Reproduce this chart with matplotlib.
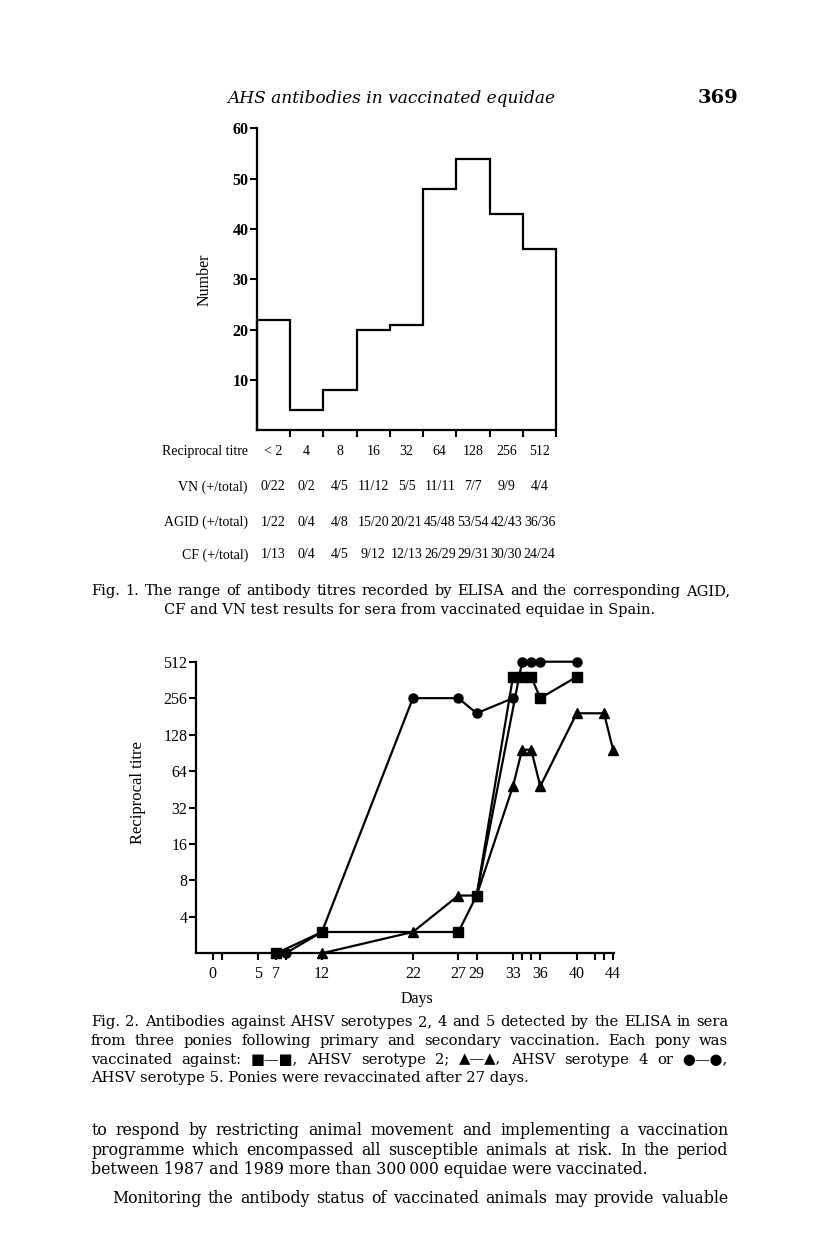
import numpy as np
import matplotlib
matplotlib.use('Agg')
import matplotlib.pyplot as plt
import matplotlib.transforms as mtransforms
from matplotlib.ticker import NullLocator

# --- Fig. 1 data: ELISA titre distribution and test results ---
titre_labels = ['< 2', '4', '8', '16', '32', '64', '128', '256', '512']
titre_counts = [22, 4, 8, 20, 21, 48, 54, 43, 36]
vn_results = ['0/22', '0/2', '4/5', '11/12', '5/5', '11/11', '7/7', '9/9', '4/4']
agid_results = ['1/22', '0/4', '4/8', '15/20', '20/21', '45/48', '53/54', '42/43', '36/36']
cf_results = ['1/13', '0/4', '4/5', '9/12', '12/13', '26/29', '29/31', '30/30', '24/24']

# --- Fig. 2 data: reciprocal titre per day for three ponies ---
square_days = [7, 12, 27, 29, 33, 34, 35, 36, 40]
square_titre = [2, 3, 3, 6, 384, 384, 384, 256, 384]
triangle_days = [12, 22, 27, 29, 33, 34, 35, 36, 40, 43, 44]
triangle_titre = [2, 3, 6, 6, 48, 96, 96, 48, 192, 192, 96]
circle_days = [8, 12, 22, 27, 29, 33]
circle_titre = [2, 3, 256, 256, 192, 256]
circle_late_days = [29, 34, 35, 36, 40]
circle_late_titre = [6, 512, 512, 512, 512]

day_labels = [0, 5, 7, 12, 22, 27, 29, 33, 36, 40, 44]
day_minor = [1, 8, 34, 35, 42, 43]
titre_ticks = [4, 8, 16, 32, 64, 128, 256, 512]

W, H = 816, 1251
plt.rcParams['font.family'] = ['Liberation Serif', 'DejaVu Serif', 'DejaVu Sans']
TIMES = 'Liberation Serif'                 # figure labels
BOOK = ['DejaVu Serif', 'DejaVu Sans']     # wider face for the page text

fig = plt.figure(figsize=(W / 100, H / 100), dpi=100)
fig.patch.set_facecolor('white')


def box(x0, y0, x1, y1):
    # page pixels (top-left origin) -> figure fraction rect
    return [x0 / W, 1 - y1 / H, (x1 - x0) / W, (y1 - y0) / H]


def put(x, y, s, **kw):
    kw.setdefault('va', 'center')
    return fig.text(x / W, 1 - y / H, s, **kw)


renderer = fig.canvas.get_renderer()


def fit_size(line, width, base=10.0, **kw):
    t = put(0, 0, line, fontsize=base, **kw)
    w = t.get_window_extent(renderer).width
    t.remove()
    return base * width / w


def justify(line, y, x0, x1, size, **kw):
    words = line.split(' ')
    texts = [put(0, y, w, fontsize=size, va='baseline', **kw) for w in words]
    widths = [t.get_window_extent(renderer).width for t in texts]
    gap = (x1 - x0 - sum(widths)) / max(len(words) - 1, 1)
    x = x0
    for t, w in zip(texts, widths):
        t.set_x(x / W)
        x += w + gap


def style_axes(ax, labelsize):
    for s in ['top', 'right']:
        ax.spines[s].set_visible(False)
    for s in ['left', 'bottom']:
        ax.spines[s].set_linewidth(1.6)
    ax.tick_params(which='both', direction='out', length=5, width=1.5,
                   labelsize=labelsize, pad=1, labelfontfamily=TIMES)


# header
head = 'AHS antibodies in vaccinated equidae'
put(391, 103, head, fontsize=fit_size(head, 327, family=BOOK, style='italic'),
    family=BOOK, style='italic', ha='center', va='baseline')
put(718, 103, '369', fontsize=14, family=BOOK, weight='bold', ha='center', va='baseline')

# ---------------- Fig. 1 ----------------
ax1 = fig.add_axes(box(256.7, 128.3, 556.3, 430.3))
edges = np.arange(len(titre_counts) + 1)
ax1.stairs(titre_counts, edges, color='black', lw=1.6, clip_on=False)
ax1.set_xlim(0, len(titre_counts))
ax1.set_ylim(0, 60)
style_axes(ax1, 11.5)
ax1.set_xticks(edges[1:])
ax1.set_xticklabels([])
ax1.set_yticks([10, 20, 30, 40, 50, 60])
ax1.set_yticklabels(['10', '20', '30', '40', '50', '60'], family=TIMES, weight='bold')
ax1.set_ylabel('Number', fontsize=11.5, family=TIMES)
ax1.yaxis.set_label_coords(-0.146, 0.5)

# table under the histogram
trans = mtransforms.blended_transform_factory(ax1.transData, fig.transFigure)
centers = edges[:-1] + 0.5
rows = [('Reciprocal titre', titre_labels, 451),
        ('VN (+/total)', vn_results, 487),
        ('AGID (+/total)', agid_results, 522),
        ('CF (+/total)', cf_results, 555)]
for name, vals, y in rows:
    put(248, y, name, fontsize=10, family=TIMES, ha='right')
    for c, v in zip(centers, vals):
        fig.text(c, 1 - y / H, v, transform=trans, fontsize=10, family=TIMES,
                 ha='center', va='center')

cap1 = ['Fig. 1. The range of antibody titres recorded by ELISA and the corresponding AGID,',
        'CF and VN test results for sera from vaccinated equidae in Spain.']
s1 = fit_size(cap1[0], 628, family=BOOK)
justify(cap1[0], 595, 91, 730, s1, family=BOOK)
put(410, 614, cap1[1], fontsize=s1, family=BOOK, ha='center', va='baseline')

# ---------------- Fig. 2 ----------------
ax2 = fig.add_axes(box(195.7, 661.7, 614.0, 953.3))
ax2.set_yscale('log', base=2)
ax2.set_ylim(2, 512)
ax2.set_xlim(-1.87, 44.1)
kw = dict(color='black', lw=1.6, ms=6.5, clip_on=False)
ax2.plot(circle_days, circle_titre, marker='o', **kw)
ax2.plot(circle_late_days, circle_late_titre, marker='o', markevery=[1, 2, 3, 4], **kw)
ax2.plot(square_days, square_titre, marker='s', **kw)
ax2.plot(triangle_days, triangle_titre, marker='^', **kw)
style_axes(ax2, 11.5)
ax2.set_yticks(titre_ticks)
ax2.set_yticklabels([str(t) for t in titre_ticks], family=TIMES)
ax2.yaxis.set_minor_locator(NullLocator())
ax2.set_xticks(day_labels)
ax2.set_xticklabels([str(d) for d in day_labels], family=TIMES)
ax2.set_xticks(day_minor, minor=True)
ax2.tick_params(axis='x', pad=4)
ax2.set_xlabel('Days', fontsize=11.5, family=TIMES)
ax2.xaxis.set_label_coords(0.529, -0.13)
ax2.set_ylabel('Reciprocal titre', fontsize=12, family=TIMES)
ax2.yaxis.set_label_coords(-0.118, 0.55)

cap2 = ['Fig. 2. Antibodies against AHSV serotypes 2, 4 and 5 detected by the ELISA in sera',
        'from three ponies following primary and secondary vaccination. Each pony was',
        'vaccinated against: \u25a0\u2014\u25a0, AHSV serotype 2; \u25b2\u2014\u25b2, AHSV serotype 4 or \u25cf\u2014\u25cf,',
        'AHSV serotype 5. Ponies were revaccinated after 27 days.']
s2 = min(fit_size(line, 628, family=BOOK) for line in cap2[:3])
for i, line in enumerate(cap2[:3]):
    justify(line, 1026 + i * 18.8, 91, 728, s2, family=BOOK)
put(91, 1026 + 3 * 18.8, cap2[3], fontsize=s2, family=BOOK, ha='left', va='baseline')

# ---------------- body text ----------------
body = ['to respond by restricting animal movement and implementing a vaccination',
        'programme which encompassed all susceptible animals at risk. In the period',
        'between 1987 and 1989 more than 300\u2009000 equidae were vaccinated.',
        'Monitoring the antibody status of vaccinated animals may provide valuable']
s3 = min(fit_size(body[0], 628, family=BOOK), fit_size(body[1], 628, family=BOOK),
         fit_size(body[3], 607, family=BOOK))
justify(body[0], 1135, 91, 728, s3, family=BOOK)
justify(body[1], 1155, 91, 728, s3, family=BOOK)
put(91, 1174, body[2], fontsize=s3, family=BOOK, ha='left', va='baseline')
justify(body[3], 1203, 112, 728, s3, family=BOOK)

plt.savefig('out.png', dpi=100)
